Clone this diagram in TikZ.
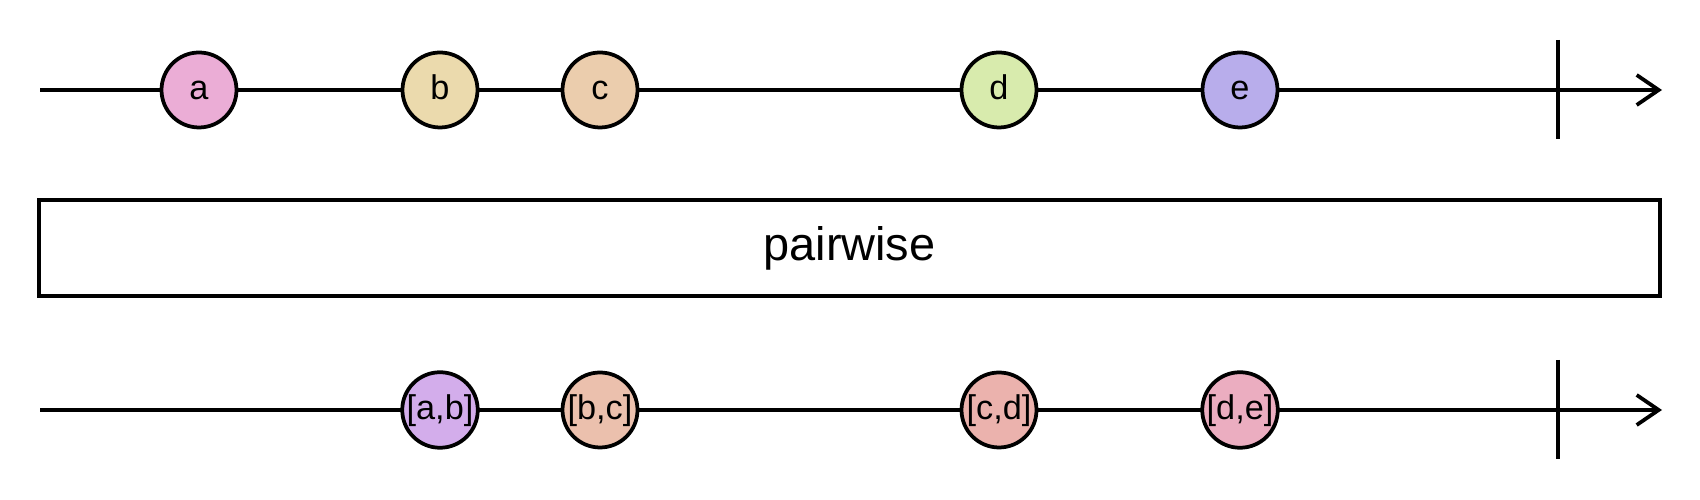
\documentclass[tikz,border=0pt]{standalone}
\usepackage{fontspec}
\setmainfont{Liberation Sans}
\usetikzlibrary{arrows.meta,positioning}
\definecolor{acol}{HTML}{EBADD6}
\definecolor{bcol}{HTML}{EBDAAD}
\definecolor{ccol}{HTML}{EBCDAD}
\definecolor{dcol}{HTML}{D8EBAD}
\definecolor{ecol}{HTML}{B8ADEB}
\definecolor{abcol}{HTML}{D3ADEB}
\definecolor{bccol}{HTML}{EBC0AD}
\definecolor{cdcol}{HTML}{EBB2AD}
\definecolor{decol}{HTML}{EBADC0}
\tikzset{
  timeline/.style = { line width=0.075cm, -{Straight Barb[length=0.44cm, width=0.6cm]} },
  endtick/.style  = { line width=0.075cm },
  marble/.style   = { draw, circle, line width=0.075cm, minimum size=1.5cm, inner sep=0pt,
    text height=0.555cm, text depth=0.155cm, font=\fontsize{19.5pt}{22pt}\selectfont },
  opbox/.style    = { draw, line width=0.075cm, minimum width=32.42cm, minimum height=1.92cm,
    inner sep=0pt, font=\fontsize{26.7pt}{32pt}\selectfont }
}

\begin{document}
\begin{tikzpicture}
  \useasboundingbox (0,0) rectangle (34,10);
  % input line
  \coordinate (in start) at (0.8,8.2);
  \coordinate (in end) at (33.24,8.2);
  \coordinate (in top) at (31.16,9.2);
  \coordinate (in bot) at (31.16,7.22);
  \draw[timeline] (in start) -- (in end);
  \draw[endtick] (in top) -- (in bot);

  \node[marble, fill=acol] (a) at (3.98,8.2) {a};
  \node[marble, fill=bcol] (b) at (8.8,8.2) {b};
  \node[marble, fill=ccol] (c) at (12.0,8.2) {c};
  \node[marble, fill=dcol] (d) at (19.98,8.2) {d};
  \node[marble, fill=ecol] (e) at (24.8,8.2) {e};

  % operator
  \node[opbox] (op) at (16.99,5.04) {pairwise};

  % output line
  \coordinate (out start) at (0.8,1.8);
  \coordinate (out end) at (33.24,1.8);
  \coordinate (out top) at (31.16,2.8);
  \coordinate (out bot) at (31.16,0.82);
  \draw[timeline] (out start) -- (out end);
  \draw[endtick] (out top) -- (out bot);

  \node[marble, fill=abcol] (ab) at (8.8,1.8) {[a,b]};
  \node[marble, fill=bccol] (bc) at (12.0,1.8) {[b,c]};
  \node[marble, fill=cdcol] (cd) at (19.98,1.8) {[c,d]};
  \node[marble, fill=decol] (de) at (24.8,1.8) {[d,e]};
\end{tikzpicture}
\end{document}
